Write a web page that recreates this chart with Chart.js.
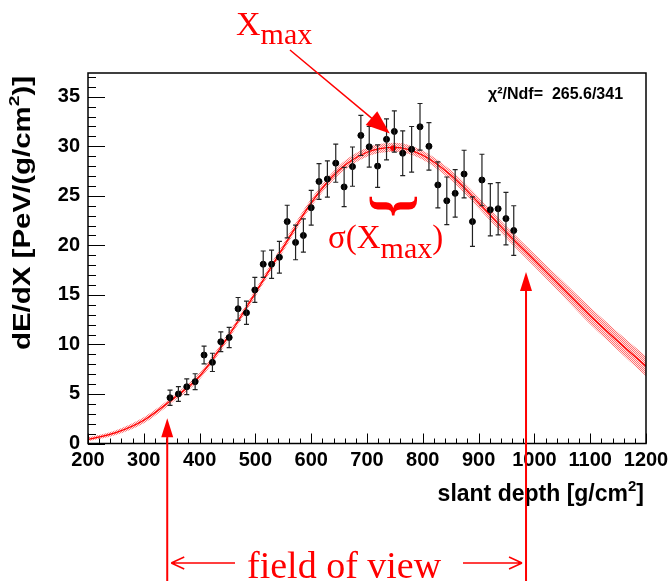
<!DOCTYPE html>
<html>
<head>
<meta charset="utf-8">
<script src="https://cdn.jsdelivr.net/npm/chart.js@4"></script>
<style>
  html, body { margin: 0; padding: 0; background: #fff; }
  #wrap { width: 670px; height: 581px; position: relative; }
</style>
</head>
<body>
<div id="wrap"><canvas id="c" width="670" height="581"></canvas></div>
<script>
// measured profile points
const depth = [347, 362, 377, 392, 408, 423, 438, 453, 469, 484, 499, 514, 529, 543,
  557, 572, 586, 600, 614, 629, 644, 659, 674, 689, 704, 719, 735, 749, 764, 780,
  795, 811, 827, 843, 858, 874, 889, 906, 921, 935, 949, 963];
const dEdX = [4.62, 5.0, 5.73, 6.24, 8.93, 8.19, 10.27, 10.7, 13.6, 13.2, 15.5, 18.1, 18.1, 18.8,
  22.4, 20.3, 21.0, 23.8, 26.45, 26.7, 28.3, 25.9, 27.95, 31.1, 29.95, 28.0, 30.7, 31.5, 29.3, 29.7,
  31.97, 30.0, 26.1, 24.5, 25.25, 27.2, 22.4, 26.6, 23.6, 23.7, 22.7, 21.5];
const dEdXErr = [0.77, 0.75, 0.8, 0.8, 0.9, 0.92, 1.0, 1.02, 1.14, 1.18, 1.26, 1.33, 1.43, 1.6,
  1.65, 1.75, 1.68, 1.75, 1.8, 1.82, 1.93, 1.98, 1.98, 2.03, 2.05, 2.15, 2.07, 2.08, 2.25, 2.3,
  2.35, 2.4, 2.32, 2.4, 2.39, 2.4, 2.5, 2.6, 2.64, 2.64, 2.64, 2.5];

// fitted profile + error band
const fitDepth = [200, 250, 300, 350, 400, 450, 500, 550, 600, 650, 700, 750, 800, 850, 900, 950, 1000, 1050, 1100, 1150, 1200];
const fitVal = [0.42, 1.1, 2.35, 4.4, 6.8, 10.7, 15.2, 19.8, 24.3, 27.6, 29.4, 29.9, 29.1, 27.1, 24.3, 21.3, 18.5, 15.7, 12.9, 10.3, 7.8];
const fitHi = [0.62, 1.35, 2.65, 4.7, 7.15, 11.05, 15.55, 20.2, 24.7, 28.05, 29.85, 30.35, 29.55, 27.6, 24.85, 21.9, 19.15, 16.45, 13.75, 11.2, 8.8];
const fitLo = [0.22, 0.85, 2.05, 4.1, 6.45, 10.35, 14.85, 19.4, 23.9, 27.15, 28.95, 29.45, 28.65, 26.6, 23.75, 20.7, 17.85, 14.95, 12.05, 9.4, 6.8];

const xMax = 747, xMaxVal = 29.8;
const fovStart = 342, fovEnd = 985;
const chi2Text = "\u03C7\u00B2/Ndf=  265.6/341";

// dithered pink fill like the ROOT band
function makePattern() {
    const p = document.createElement('canvas');
    p.width = 2; p.height = 2;
    const g = p.getContext('2d');
    g.fillStyle = 'rgba(255,0,0,0.55)';
    g.fillRect(0, 0, 1, 1);
    g.fillRect(1, 1, 1, 1);
    g.fillStyle = 'rgba(255,160,160,0.25)';
    g.fillRect(1, 0, 1, 1);
    g.fillRect(0, 1, 1, 1);
    return document.getElementById('c').getContext('2d').createPattern(p, 'repeat');
}

// text in pieces (for sub/superscripts)
function drawRich(ctx, parts, x, y, align) {
    let w = 0;
    parts.forEach(p => { ctx.font = p.font; w += ctx.measureText(p.t).width; });
    let cx = align === 'right' ? x - w : align === 'center' ? x - w / 2 : x;
    ctx.textAlign = 'left';
    parts.forEach(p => {
        ctx.font = p.font;
        ctx.fillText(p.t, cx, y + (p.dy || 0));
        cx += ctx.measureText(p.t).width;
    });
}

function arrowHead(ctx, x1, y1, x2, y2, len, half) {
    const a = Math.atan2(y2 - y1, x2 - x1);
    ctx.beginPath();
    ctx.moveTo(x2, y2);
    ctx.lineTo(x2 - len * Math.cos(a) + half * Math.sin(a), y2 - len * Math.sin(a) - half * Math.cos(a));
    ctx.lineTo(x2 - len * Math.cos(a) - half * Math.sin(a), y2 - len * Math.sin(a) + half * Math.cos(a));
    ctx.closePath();
    ctx.fill();
}

const rootStyle = {
    id: 'rootStyle',
    afterDatasetsDraw(chart) {
        const ctx = chart.ctx, xs = chart.scales.x, ys = chart.scales.y;
        // error bars
        ctx.save();
        ctx.strokeStyle = '#222';
        ctx.lineWidth = 1.2;
        depth.forEach((d, i) => {
            const px = xs.getPixelForValue(d);
            const top = ys.getPixelForValue(dEdX[i] + dEdXErr[i]);
            const bot = ys.getPixelForValue(dEdX[i] - dEdXErr[i]);
            ctx.beginPath();
            ctx.moveTo(px, top); ctx.lineTo(px, bot);
            ctx.moveTo(px - 2.5, top); ctx.lineTo(px + 2.5, top);
            ctx.moveTo(px - 2.5, bot); ctx.lineTo(px + 2.5, bot);
            ctx.stroke();
        });
        ctx.restore();
    },
    afterDraw(chart) {
        const ctx = chart.ctx, xs = chart.scales.x, ys = chart.scales.y;
        const a = chart.chartArea;
        ctx.save();
        // frame
        ctx.strokeStyle = '#000';
        ctx.lineWidth = 1.5;
        ctx.strokeRect(a.left, a.top, a.right - a.left, a.bottom - a.top);
        // inward ticks
        ctx.lineWidth = 1;
        ctx.beginPath();
        for (let v = 200; v <= 1200; v += 20) {
            const px = Math.round(xs.getPixelForValue(v)) + 0.5;
            const len = v % 100 === 0 ? 10 : 5;
            ctx.moveTo(px, a.bottom); ctx.lineTo(px, a.bottom - len);
        }
        for (let v = 0; v <= 37; v += 1) {
            const py = Math.round(ys.getPixelForValue(v)) + 0.5;
            const len = v % 5 === 0 ? 17 : 8;
            ctx.moveTo(a.left, py); ctx.lineTo(a.left + len, py);
        }
        ctx.stroke();

        // axis titles
        ctx.fillStyle = '#000';
        ctx.textBaseline = 'alphabetic';
        drawRich(ctx, [
            { t: 'slant depth [g/cm', font: 'bold 23px "Liberation Sans"' },
            { t: '2', font: 'bold 15px "Liberation Sans"', dy: -10 },
            { t: ']', font: 'bold 23px "Liberation Sans"' }
        ], 644, 501, 'right');

        ctx.save();
        ctx.translate(30, 213);
        ctx.rotate(-Math.PI / 2);
        ctx.scale(1.28, 1);
        drawRich(ctx, [
            { t: 'dE/dX [PeV/(g/cm', font: 'bold 23px "Liberation Sans"' },
            { t: '2', font: 'bold 15px "Liberation Sans"', dy: -11 },
            { t: ')]', font: 'bold 23px "Liberation Sans"' }
        ], 0, 0, 'center');
        ctx.restore();

        // fit quality
        ctx.font = 'bold 16px "Liberation Sans"';
        ctx.textAlign = 'left';
        ctx.fillText(chi2Text, 488, 99);

        // annotations
        ctx.fillStyle = 'red';
        ctx.strokeStyle = 'red';
        drawRich(ctx, [
            { t: 'X', font: '34px "Liberation Serif"' },
            { t: 'max', font: '30px "Liberation Serif"', dy: 9 }
        ], 236, 35, 'left');

        // arrow to Xmax
        const tx = xs.getPixelForValue(741), ty = ys.getPixelForValue(31.3);
        ctx.lineWidth = 1.5;
        ctx.beginPath();
        ctx.moveTo(290, 50); ctx.lineTo(tx - 12, ty - 10);
        ctx.stroke();
        arrowHead(ctx, 290, 50, tx, ty, 24, 9);

        // sigma label and brace
        drawRich(ctx, [
            { t: '\u03C3(X', font: '33px "Liberation Serif"' },
            { t: 'max', font: '30px "Liberation Serif"', dy: 10 },
            { t: ')', font: '33px "Liberation Serif"' }
        ], 328, 248, 'left');
        ctx.save();
        ctx.translate(xs.getPixelForValue(xMax) - 1, 206);
        ctx.rotate(Math.PI / 2);
        ctx.font = 'bold 58px "Liberation Serif"';
        ctx.textAlign = 'center';
        ctx.textBaseline = 'middle';
        ctx.fillText('}', 0, 0);
        ctx.restore();

        // field of view markers
        ctx.lineWidth = 2;
        const fl = xs.getPixelForValue(fovStart), fr = xs.getPixelForValue(fovEnd);
        const tl = ys.getPixelForValue(2.55), tr = ys.getPixelForValue(17.3);
        ctx.beginPath();
        ctx.moveTo(fl, 581); ctx.lineTo(fl, tl + 12);
        ctx.moveTo(fr, 581); ctx.lineTo(fr, tr + 12);
        ctx.stroke();
        arrowHead(ctx, fl, 581, fl, tl, 19, 6);
        arrowHead(ctx, fr, 581, fr, tr, 19, 6);

        ctx.lineWidth = 1.5;
        ctx.beginPath();
        ctx.moveTo(fl + 4, 563); ctx.lineTo(235, 563);
        ctx.moveTo(fl + 4, 563); ctx.lineTo(fl + 17, 557);
        ctx.moveTo(fl + 4, 563); ctx.lineTo(fl + 17, 569);
        ctx.moveTo(463, 563); ctx.lineTo(fr - 4, 563);
        ctx.moveTo(fr - 4, 563); ctx.lineTo(fr - 17, 557);
        ctx.moveTo(fr - 4, 563); ctx.lineTo(fr - 17, 569);
        ctx.stroke();
        ctx.font = '38px "Liberation Serif"';
        ctx.textAlign = 'left';
        ctx.fillText('field of view', 247, 578);
        ctx.restore();
    }
};

const band = makePattern();

new Chart(document.getElementById('c'), {
    type: 'scatter',
    data: {
        datasets: [
            {
                data: depth.map((d, i) => ({ x: d, y: dEdX[i] })),
                backgroundColor: '#000',
                borderColor: '#000',
                pointRadius: 3,
                order: 0
            },
            {
                data: [{ x: xMax, y: xMaxVal }],
                backgroundColor: 'red',
                borderColor: 'red',
                pointRadius: 2.5,
                order: 1
            },
            {
                data: fitDepth.map((d, i) => ({ x: d, y: fitVal[i] })),
                showLine: true,
                borderColor: 'red',
                borderWidth: 1.3,
                pointRadius: 0,
                cubicInterpolationMode: 'monotone',
                order: 2
            },
            {
                data: fitDepth.map((d, i) => ({ x: d, y: fitHi[i] })),
                showLine: true,
                borderWidth: 0,
                borderColor: 'rgba(0,0,0,0)',
                backgroundColor: band,
                fill: '+1',
                pointRadius: 0,
                cubicInterpolationMode: 'monotone',
                order: 3
            },
            {
                data: fitDepth.map((d, i) => ({ x: d, y: fitLo[i] })),
                showLine: true,
                borderWidth: 0,
                borderColor: 'rgba(0,0,0,0)',
                pointRadius: 0,
                cubicInterpolationMode: 'monotone',
                order: 4
            }
        ]
    },
    options: {
        responsive: false,
        animation: false,
        events: [],
        layout: { padding: { left: 0, top: 73, right: 24, bottom: 0 } },
        plugins: { legend: { display: false }, tooltip: { enabled: false } },
        scales: {
            x: {
                type: 'linear',
                min: 200, max: 1200,
                grid: { display: false, drawTicks: false },
                border: { display: false },
                ticks: {
                    stepSize: 100,
                    padding: 5,
                    color: '#000',
                    maxRotation: 0,
                    autoSkip: false,
                    callback: v => String(v),
                    font: { family: 'Liberation Sans', size: 20, weight: 'bold' }
                },
                afterFit: s => { s.height = 137.5; s.paddingLeft = 0; s.paddingRight = 0; }
            },
            y: {
                min: 0, max: 37.4,
                grid: { display: false, drawTicks: false },
                border: { display: false },
                ticks: {
                    stepSize: 5,
                    includeBounds: false,
                    padding: 8,
                    color: '#000',
                    font: { family: 'Liberation Sans', size: 20, weight: 'bold' }
                },
                afterFit: s => { s.width = 88; s.paddingTop = 0; s.paddingBottom = 0; }
            }
        }
    },
    plugins: [rootStyle]
});
</script>
</body>
</html>
